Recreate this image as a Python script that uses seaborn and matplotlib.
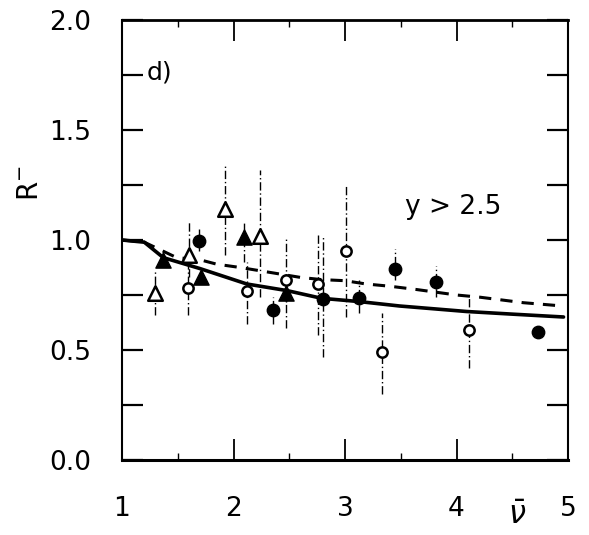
import numpy as np
import pandas as pd
import matplotlib
matplotlib.use("Agg")
import matplotlib.pyplot as plt
import seaborn as sns
from matplotlib.ticker import MultipleLocator

sns.set_theme(style="ticks")
plt.rcParams['font.family'] = ['DejaVu Sans']

# ---- data ----
ot_x = [1.30, 1.60, 1.92, 2.24]
ot_y = [0.76, 0.93, 1.14, 1.02]
ot_lo = [0.66, 0.83, 0.93, 0.74]
ot_hi = [0.86, 1.08, 1.34, 1.32]

ft_x = [1.37, 1.71, 2.09, 2.47]
ft_y = [0.91, 0.83, 1.015, 0.76]
ft_lo = [0.89, 0.80, 0.90, 0.72]
ft_hi = [0.93, 0.86, 1.08, 0.80]

oc_x = [1.59, 2.12, 2.47, 2.76, 3.01, 3.33, 4.11]
oc_y = [0.78, 0.77, 0.82, 0.80, 0.95, 0.49, 0.59]
oc_lo = [0.66, 0.62, 0.60, 0.57, 0.65, 0.30, 0.42]
oc_hi = [0.92, 0.90, 1.01, 1.03, 1.25, 0.67, 0.74]

fc_x = [1.69, 2.35, 2.80, 3.13, 3.45, 3.82, 4.73]
fc_y = [0.995, 0.68, 0.73, 0.735, 0.87, 0.81, 0.58]
fc_lo = [0.95, 0.62, 0.47, 0.67, 0.82, 0.74, 0.56]
fc_hi = [1.05, 0.74, 1.02, 0.82, 0.96, 0.88, 0.60]

solid_x = [1.0, 1.2, 1.37, 1.7, 2.12, 2.48, 2.79, 3.13, 3.49, 4.09, 4.5, 4.96]
solid_y = [1.0, 0.99, 0.92, 0.87, 0.80, 0.77, 0.735, 0.72, 0.70, 0.675, 0.663, 0.65]

dash_x = [1.0, 1.2, 1.49, 1.7, 1.85, 2.06, 2.24, 2.42, 2.6, 2.79, 3.0, 3.19, 3.40, 3.64, 4.0, 4.21, 4.6, 4.95]
dash_y = [1.0, 0.99, 0.92, 0.91, 0.89, 0.875, 0.86, 0.845, 0.83, 0.82, 0.815, 0.80, 0.79, 0.775, 0.75, 0.74, 0.715, 0.70]

xticks = [1, 2, 3, 4, 5]
yticks = [0.0, 0.5, 1.0, 1.5, 2.0]

fig = plt.figure(figsize=(5.89, 5.35), dpi=100)
ax = fig.add_axes([122/589, 75/535, 446/589, 440/535])

# curves
sns.lineplot(x=solid_x, y=solid_y, ax=ax, color='black', lw=2.6, sort=True)
sns.lineplot(x=dash_x, y=dash_y, ax=ax, color='black', lw=2.2, sort=True,
             linestyle=(0, (4, 3)))

# error bars
for xs, lo, hi in [(ot_x, ot_lo, ot_hi), (ft_x, ft_lo, ft_hi),
                   (oc_x, oc_lo, oc_hi), (fc_x, fc_lo, fc_hi)]:
    ax.vlines(xs, lo, hi, colors='black', lw=1.0, linestyles=(0, (6, 2, 1, 2)))

# points
sns.scatterplot(x=ot_x, y=ot_y, ax=ax, marker='^', s=110, facecolor='white',
                edgecolor='black', linewidth=1.8, zorder=5)
sns.scatterplot(x=ft_x, y=ft_y, ax=ax, marker='^', s=120, color='black',
                edgecolor='black', linewidth=1.0, zorder=5)
sns.scatterplot(x=oc_x, y=oc_y, ax=ax, marker='o', s=55, facecolor='white',
                edgecolor='black', linewidth=1.8, zorder=5)
sns.scatterplot(x=fc_x, y=fc_y, ax=ax, marker='o', s=80, color='black',
                edgecolor='black', linewidth=1.0, zorder=5)

ax.set_xlim(1, 5)
ax.set_ylim(0, 2)
ax.set_xticks(xticks)
ax.set_yticks(yticks)
ax.set_xticklabels([str(t) for t in xticks])
ax.set_yticklabels([f"{t:.1f}" for t in yticks])
ax.xaxis.set_minor_locator(MultipleLocator(0.5))
ax.yaxis.set_minor_locator(MultipleLocator(0.25))
ax.tick_params(axis='both', which='both', direction='in', top=True, right=True,
               colors='black', labelsize=19)
ax.tick_params(axis='y', which='both', length=15, width=1.6, pad=22)
ax.tick_params(axis='x', which='major', length=15, width=1.3, pad=26)
ax.tick_params(axis='x', which='minor', length=5, width=1.0)
for s in ax.spines.values():
    s.set_color('black')
    s.set_linewidth(1.5)
ax.spines['bottom'].set_linewidth(2.2)
ax.spines['top'].set_linewidth(2.0)

fig.text(30/589, 1 - 183/535, r'R$^{-}$', fontsize=20, color='black',
         rotation=90, ha='center', va='center')
fig.text(517/589, 1 - 515/535, r'$\bar{\nu}$', fontsize=22, color='black',
         ha='center', va='center')

ax.text(1.34, 1.76, 'd)', fontsize=18, ha='center', va='center', color='black')
ax.text(3.54, 1.15, 'y > 2.5', fontsize=19, ha='left', va='center', color='black')

fig.savefig('out.png', dpi=100)
